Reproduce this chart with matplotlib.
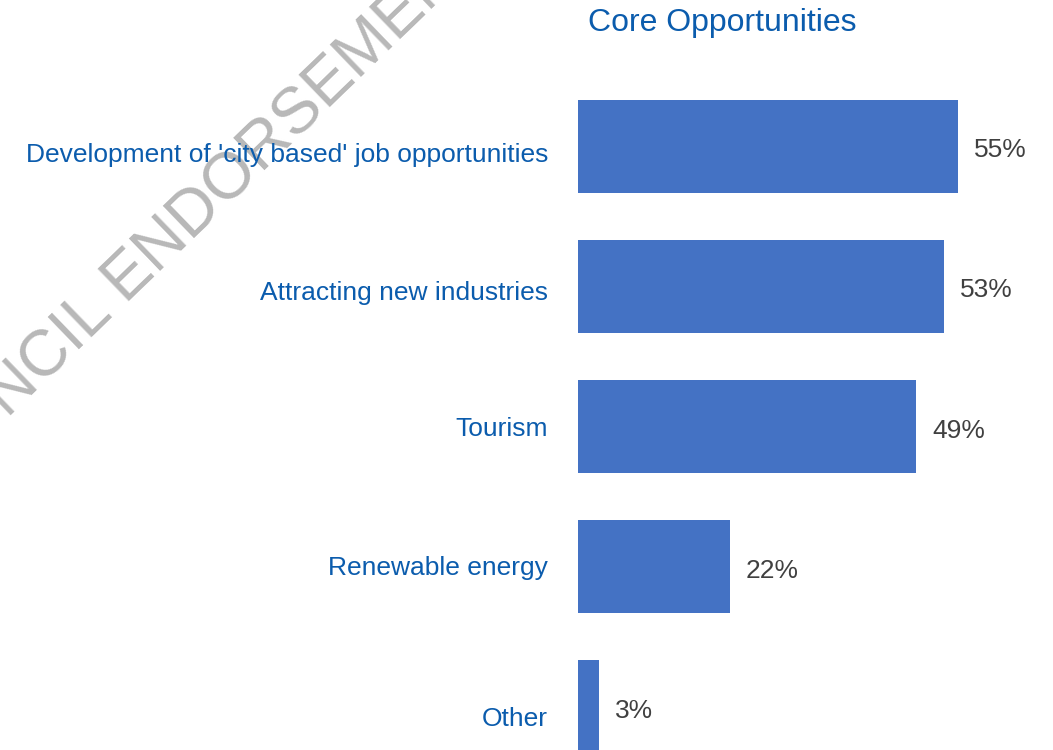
import matplotlib.pyplot as plt
import matplotlib.transforms as mtransforms

# survey results
categories = ["Development of 'city based' job opportunities",
              "Attracting new industries",
              "Tourism",
              "Renewable energy",
              "Other"]
shares = [55, 53, 49, 22, 3]

bar_color = "#4472C4"
label_color = "#0B5CAD"
value_color = "#404040"

plt.rcParams['font.family'] = ['Liberation Sans', 'DejaVu Sans']

W, H = 1053, 750
fig = plt.figure(figsize=(W / 100, H / 100), dpi=100)

# watermark sits behind everything
fig.text(-108 / W, (H - 507) / H, "COUNCIL ENDORSEMENT", fontsize=47,
         color="#B8B8B8", rotation=44, rotation_mode='anchor',
         ha='left', va='center', zorder=-1)

# axes spans 140 px per bar slot, first bar centred at y=146 px
ax = fig.add_axes([578 / W, (H - 777) / H, 414 / W, 701 / H])
ax.patch.set_alpha(0)
pos = range(len(categories))
ax.barh(pos, shares, height=0.664, color=bar_color)
ax.set_xlim(0, 60)
ax.set_ylim(4.5, -0.5)

for y, v in zip(pos, shares):
    ax.annotate(f"{v}%", (v, y), xytext=(16 * 0.72, -3), textcoords='offset points',
                ha='left', va='center', fontsize=19, color=value_color)

ax.set_yticks(list(pos))
ax.set_yticklabels(categories, fontsize=19, color=label_color)
ax.tick_params(axis='y', length=0, pad=30 * 0.72)
ax.set_xticks([])
for s in ax.spines.values():
    s.set_visible(False)

# nudge category labels down a little (pixels)
nudge = [6, 4, 0, -1, 10]
for lbl, dy in zip(ax.get_yticklabels(), nudge):
    lbl.set_transform(lbl.get_transform() +
                      mtransforms.ScaledTranslation(0, -dy / 100, fig.dpi_scale_trans))

fig.text(588 / W, (H - 31) / H, "Core Opportunities", fontsize=23,
         color=label_color, ha='left', va='baseline')

fig.savefig("out.png", dpi=100)
